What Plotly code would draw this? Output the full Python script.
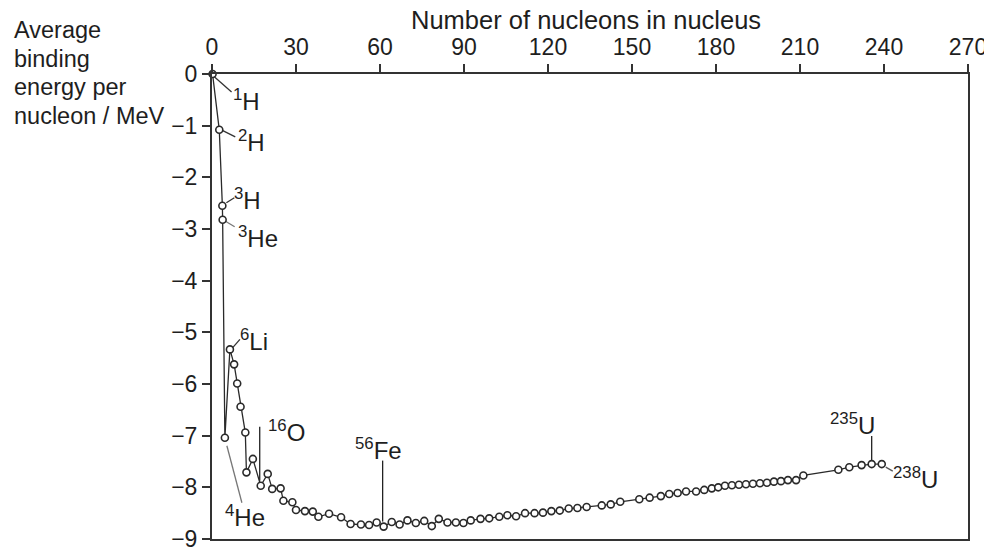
import plotly.graph_objects as go

# ---- data ----
nucleons = [0.2, 2.6, 3.7, 3.8, 4.6, 6.4, 7.9, 9.0, 10.2, 11.9, 12.3, 14.6, 17.4, 19.9, 21.5,
            24.5, 25.5, 28.7, 30.0, 33.2, 36.0, 38.0, 41.8, 46.1, 49.5, 53.2, 56.1, 58.8, 61.3,
            64.2, 67.0, 69.8, 72.8, 75.8, 78.5, 81.0, 84.1, 87.1, 89.8, 92.4, 95.9, 99.0, 102.6,
            105.5, 108.6, 111.8, 115.2, 118.2, 121.2, 124.2, 127.4, 130.5, 133.8, 139.2, 142.4,
            145.8, 152.6, 156.3, 160.3, 163.3, 166.3, 169.3, 172.9, 175.8, 178.5, 180.8, 183.2,
            185.7, 188.2, 190.7, 193.2, 195.7, 198.2, 200.7, 203.2, 205.7, 208.6, 211.2, 223.7,
            227.6, 232.0, 235.6, 239.2]
binding_energy = [0, -1.08, -2.55, -2.82, -7.04, -5.33, -5.62, -5.99, -6.44, -6.94, -7.71, -7.45,
                  -7.97, -7.74, -8.03, -8.02, -8.26, -8.29, -8.44, -8.46, -8.47, -8.57, -8.51,
                  -8.58, -8.71, -8.72, -8.73, -8.68, -8.76, -8.67, -8.72, -8.64, -8.69, -8.65,
                  -8.75, -8.61, -8.68, -8.68, -8.69, -8.64, -8.61, -8.60, -8.57, -8.54, -8.56,
                  -8.50, -8.50, -8.49, -8.46, -8.45, -8.41, -8.40, -8.38, -8.35, -8.33, -8.28,
                  -8.23, -8.20, -8.17, -8.13, -8.11, -8.08, -8.08, -8.05, -8.02, -8.00, -7.97,
                  -7.96, -7.95, -7.94, -7.93, -7.92, -7.91, -7.89, -7.88, -7.86, -7.86, -7.77,
                  -7.66, -7.61, -7.57, -7.55, -7.55]

x_ticks = [0, 30, 60, 90, 120, 150, 180, 210, 240, 270]
y_ticks = [0, -1, -2, -3, -4, -5, -6, -7, -8, -9]

label_text = ["<sup>1</sup>H", "<sup>2</sup>H", "<sup>3</sup>H", "<sup>3</sup>He", "<sup>4</sup>He",
              "<sup>6</sup>Li", "<sup>16</sup>O", "<sup>56</sup>Fe", "<sup>235</sup>U", "<sup>238</sup>U"]
label_index = [0, 1, 2, 3, 4, 5, 12, 28, 81, 82]

y_title_lines = ["Average", "binding", "energy per", "nucleon / MeV"]
x_title = "Number of nucleons in nucleus"

# ---- styling / placement (pixel offsets from the labelled point; y up) ----
label_shift = [(34, -26), (32, -11), (25, 7), (35, -17), (20, -78),
               (24, 9), (26, 55), (-5, 78), (-19, 40), (34, -14)]
leader = [(2, -3, 19, -18), (2, 0, 16, -7), (4, 3, 12, 8), (2, -1, 12, -7), (2, -8, 17, -65),
          (3, 2, 10, 10), (-1, 5, -1, 59), (-1, 5, -1, 66), (0, 3, 0, 28), (4, -3, 11, -7)]
leader_color = ["#333", "#333", "#333", "#777", "#777", "#333", "#222", "#222", "#222", "#555"]
y_title_shift = [44, 15.5, -13, -41.5]

ink = "#1e1e1e"
font_family = "Liberation Sans, Arial, sans-serif"

fig = go.Figure()
fig.add_trace(go.Scatter(
    x=nucleons, y=binding_energy, mode="lines+markers",
    line=dict(color="#2a2a2a", width=1.3),
    marker=dict(symbol="circle", size=7, color="white", line=dict(color="#2a2a2a", width=1.6)),
    cliponaxis=False, showlegend=False, hoverinfo="x+y"))

annotations = []
shapes = []
for txt, idx, (dx, dy), (x0, y0, x1, y1), col in zip(label_text, label_index, label_shift, leader, leader_color):
    ax_, ay_ = nucleons[idx], binding_energy[idx]
    annotations.append(dict(x=ax_, y=ay_, xref="x", yref="y", text=txt, showarrow=False,
                            xshift=dx, yshift=dy, xanchor="center", yanchor="middle",
                            font=dict(size=24, color=ink, family=font_family)))
    shapes.append(dict(type="line", xref="x", yref="y", xsizemode="pixel", ysizemode="pixel",
                       xanchor=ax_, yanchor=ay_, x0=x0, x1=x1, y0=y0, y1=y1,
                       line=dict(color=col, width=1.3), layer="below"))

annotations.append(dict(x=0.5, y=1, xref="paper", yref="paper", yshift=54, xshift=-4,
                        text=x_title, showarrow=False,
                        xanchor="center", yanchor="middle",
                        font=dict(size=25.5, color=ink, family=font_family)))
for line_txt, ys in zip(y_title_lines, y_title_shift):
    annotations.append(dict(x=0, y=1, xref="paper", yref="paper", xshift=-200, yshift=ys,
                            text=line_txt, showarrow=False,
                            xanchor="left", yanchor="middle", align="left",
                            font=dict(size=23.5, color=ink, family=font_family)))

# The page body has an 8px margin, so the figure is sized/margined to land the
# plot area at the same window pixels as the reference.
fig.update_layout(
    width=984, height=541,
    margin=dict(l=204, r=24, t=66, b=10, autoexpand=False),
    paper_bgcolor="white", plot_bgcolor="white",
    font=dict(family=font_family, color=ink, size=23),
    xaxis=dict(range=[0, 270], side="top", tickvals=x_ticks, ticks="outside", ticklen=8,
               tickwidth=1.5, tickcolor="#333", showline=True, linecolor="#333", linewidth=2,
               mirror=True, showgrid=False, zeroline=False, tickfont=dict(size=23),
               ticklabeloverflow="allow"),
    yaxis=dict(range=[-9, 0], tickvals=y_ticks, ticks="outside", ticklen=8,
               tickwidth=1.5, tickcolor="#333", showline=True, linecolor="#333", linewidth=2,
               mirror=True, showgrid=False, zeroline=False, tickfont=dict(size=23),
               ticklabeloverflow="allow"),
    annotations=annotations, shapes=shapes,
)

fig.write_html("out.html")
